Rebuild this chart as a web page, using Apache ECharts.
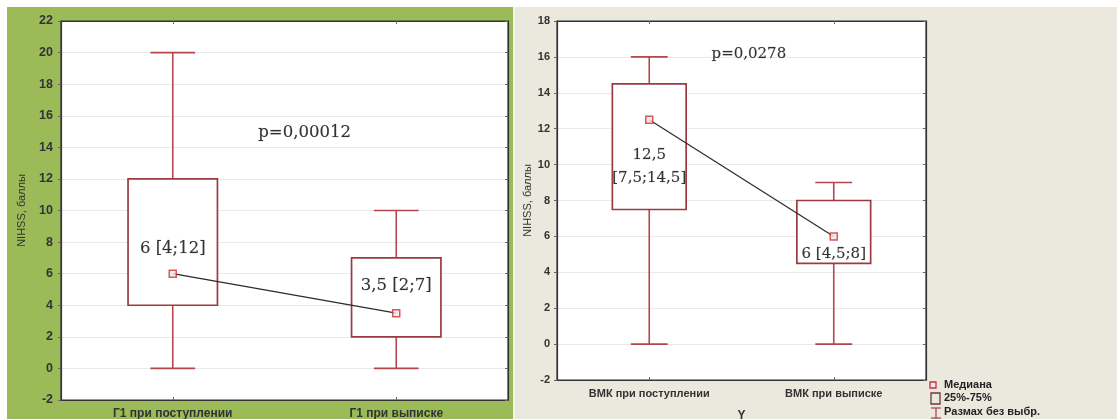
<!DOCTYPE html>
<html>
<head>
<meta charset="utf-8">
<script src="https://cdn.jsdelivr.net/npm/echarts@6/dist/echarts.min.js"></script>
<style>
html,body{margin:0;padding:0;background:#fff;}
#chart{width:1117px;height:419px;}
</style>
</head>
<body>
<div id="chart"></div>
<script>
// ---------- data ----------
const leftCategories = ['Г1 при поступлении', 'Г1 при выписке'];
// [min, Q1, median, Q3, max]
const leftStats = [[0, 4, 6, 12, 20], [0, 2, 3.5, 7, 10]];
const leftMedians = [6, 3.5];
// annotations: [x (0..2 across plot), y, text]
const leftNotes = [[0.5, 7.6, '6 [4;12]'], [1.5, 5.22, '3,5 [2;7]'], [1.09, 14.95, 'p=0,00012']];

const rightCategories = ['ВМК при поступлении', 'ВМК при выписке'];
const rightStats = [[0, 7.5, 12.5, 14.5, 16], [0, 4.5, 6, 8, 9]];
const rightMedians = [12.5, 6];
const rightNotes = [[0.5, 9.9, '12,5\n[7,5;14,5]'], [1.5, 5.02, '6 [4,5;8]'], [1.04, 16.15, 'p=0,0278']];

const yAxisName = 'NIHSS, баллы';
const rightXName = 'Y';
const legendLabels = ['Медиана', '25%-75%', 'Размах без выбр.'];

// ---------- helpers ----------
const boxColor = '#9c3a40';
const whiskColor = '#b4464c';

function boxRender(params, api) {
  const idx = api.value(0);
  const mn = api.value(1), q1 = api.value(2), q3 = api.value(4), mx = api.value(5);
  const band = api.size([1, 0])[0];
  const boxW = band * 0.4, capW = band * 0.2;
  const pMin = api.coord([idx, mn]);
  const pQ1 = api.coord([idx, q1]);
  const pQ3 = api.coord([idx, q3]);
  const pMax = api.coord([idx, mx]);
  const x = pMin[0];
  const ws = {stroke: whiskColor, lineWidth: 1.6};
  return {
    type: 'group',
    children: [
      {type: 'line', shape: {x1: x, y1: pMin[1], x2: x, y2: pQ1[1]}, style: ws},
      {type: 'line', shape: {x1: x, y1: pQ3[1], x2: x, y2: pMax[1]}, style: ws},
      {type: 'line', shape: {x1: x - capW / 2, y1: pMin[1], x2: x + capW / 2, y2: pMin[1]}, style: ws},
      {type: 'line', shape: {x1: x - capW / 2, y1: pMax[1], x2: x + capW / 2, y2: pMax[1]}, style: ws},
      {type: 'rect', shape: {x: x - boxW / 2, y: pQ3[1], width: boxW, height: pQ1[1] - pQ3[1]},
        style: {fill: '#fff', stroke: boxColor, lineWidth: 1.7}}
    ]
  };
}

function statsData(stats) {
  return stats.map((s, i) => [i].concat(s));
}

const tickFont = {fontFamily: 'Liberation Sans, Arial, sans-serif', color: '#333', fontWeight: 'bold'};

function makeYAxis(gridIndex, max, fs, nameGap, margin) {
  return {
    type: 'value', gridIndex: gridIndex, min: -2, max: max, interval: 2,
    name: yAxisName, nameLocation: 'middle', nameRotate: 90, nameGap: nameGap,
    nameTextStyle: {fontFamily: 'Liberation Sans, Arial, sans-serif', fontSize: 11, color: '#333'},
    axisLine: {show: true, onZero: false, lineStyle: {color: '#333', width: 1.2}},
    axisTick: {show: true, inside: false, length: 3, lineStyle: {color: '#666'}},
    axisLabel: Object.assign({fontSize: fs, margin: margin}, tickFont),
    splitLine: {show: true, lineStyle: {color: '#e9e9e9', width: 1}}
  };
}

function makeRightY(gridIndex, max) {
  return {
    type: 'value', gridIndex: gridIndex, position: 'right', min: -2, max: max, interval: 2,
    axisLine: {show: true, onZero: false, lineStyle: {color: '#333', width: 1.2}},
    axisTick: {show: true, inside: true, length: 3, lineStyle: {color: '#666'}},
    axisLabel: {show: false}, splitLine: {show: false}
  };
}

function makeXAxis(gridIndex, cats, fs, margin, name) {
  return {
    type: 'category', gridIndex: gridIndex, data: cats, boundaryGap: true,
    name: name || '', nameLocation: 'middle', nameGap: 30,
    nameTextStyle: Object.assign({fontSize: 12}, tickFont),
    axisLine: {show: true, onZero: false, lineStyle: {color: '#333', width: 1.2}},
    axisTick: {show: true, inside: true, alignWithLabel: true, length: 3, lineStyle: {color: '#666'}},
    axisLabel: Object.assign({fontSize: fs, margin: margin}, tickFont),
    splitLine: {show: false}
  };
}

function makeTopX(gridIndex, cats) {
  return {
    type: 'category', gridIndex: gridIndex, data: cats, boundaryGap: true, position: 'top',
    axisLine: {show: true, onZero: false, lineStyle: {color: '#333', width: 1.2}},
    axisTick: {show: true, inside: true, alignWithLabel: true, length: 3, lineStyle: {color: '#666'}},
    axisLabel: {show: false}, splitLine: {show: false}
  };
}

function hiddenX(gridIndex) {
  return {type: 'value', gridIndex: gridIndex, min: 0, max: 2, show: false,
    axisLine: {show: false, onZero: false}, axisTick: {show: false}, axisLabel: {show: false}, splitLine: {show: false}};
}

function noteSeries(xi, yi, notes, fs) {
  return {
    type: 'scatter', xAxisIndex: xi, yAxisIndex: yi, symbolSize: 0, silent: true, z: 10,
    data: notes.map(n => ({value: [n[0], n[1]], label: {formatter: n[2]}})),
    label: {show: true, position: 'inside', lineHeight: 23, fontFamily: 'DejaVu Serif, serif', color: '#000', fontSize: fs,
      textBorderColor: 'rgba(0,0,0,0.35)', textBorderWidth: 0.4}
  };
}

function medianLine(xi, yi, meds) {
  return {type: 'line', xAxisIndex: xi, yAxisIndex: yi, data: meds, symbol: 'none', silent: true,
    lineStyle: {color: '#2b2b2b', width: 1.2}, z: 4};
}
function medianPts(xi, yi, meds) {
  return {type: 'scatter', name: legendLabels[0], xAxisIndex: xi, yAxisIndex: yi, data: meds,
    symbol: 'rect', symbolSize: 7, silent: true, z: 5,
    itemStyle: {color: '#f6e4e4', borderColor: '#c8323c', borderWidth: 1.5}};
}

const legendFont = {fontSize: 11, fontFamily: 'Liberation Sans, Arial, sans-serif', fill: '#222', verticalAlign: 'middle', fontWeight: 'bold'};

const chart = echarts.init(document.getElementById('chart'), null, {renderer: 'canvas'});
chart.setOption({
  backgroundColor: '#ffffff',
  animation: false,
  graphic: [
    {type: 'rect', z: -10, silent: true, shape: {x: 7, y: 7, width: 506, height: 412}, style: {fill: '#9bbb59'}},
    {type: 'rect', z: -10, silent: true, shape: {x: 513, y: 7, width: 2, height: 412}, style: {fill: '#f3f2ea'}},
    {type: 'rect', z: -10, silent: true, shape: {x: 515, y: 7, width: 602, height: 412}, style: {fill: '#ebe8de'}},
    // legend
    {type: 'rect', z: 20, shape: {x: 930, y: 382, width: 6, height: 6}, style: {fill: '#f6e4e4', stroke: '#c8323c', lineWidth: 1.3}},
    {type: 'text', z: 20, style: Object.assign({x: 944, y: 385, text: legendLabels[0]}, legendFont)},
    {type: 'rect', z: 20, shape: {x: 931, y: 393, width: 9, height: 11}, style: {fill: 'none', stroke: '#6b3a3a', lineWidth: 1.3}},
    {type: 'text', z: 20, style: Object.assign({x: 944, y: 398, text: legendLabels[1]}, legendFont)},
    {type: 'polyline', z: 20, shape: {points: [[931, 408], [941, 408]]}, style: {stroke: '#b4464c', lineWidth: 1.3}},
    {type: 'polyline', z: 20, shape: {points: [[936, 408], [936, 419]]}, style: {stroke: '#b4464c', lineWidth: 1.3}},
    {type: 'polyline', z: 20, shape: {points: [[931, 418], [941, 418]]}, style: {stroke: '#b4464c', lineWidth: 1.3}},
    {type: 'text', z: 20, style: Object.assign({x: 944, y: 412, text: legendLabels[2]}, legendFont)}
  ],
  grid: [
    {left: 61, top: 21, width: 447, height: 379, show: true, backgroundColor: '#ffffff', borderColor: '#333', borderWidth: 1.2,
      outerBoundsMode: 'none', containLabel: false},
    {left: 557, top: 21, width: 369, height: 359, show: true, backgroundColor: '#ffffff', borderColor: '#333', borderWidth: 1.2,
      outerBoundsMode: 'none', containLabel: false}
  ],
  xAxis: [
    makeXAxis(0, leftCategories, 12, 8),
    makeXAxis(1, rightCategories, 11, 8, rightXName),
    hiddenX(0),
    hiddenX(1),
    makeTopX(0, leftCategories),
    makeTopX(1, rightCategories)
  ],
  yAxis: [
    makeYAxis(0, 22, 12.5, 34, 8),
    makeYAxis(1, 18, 11, 24, 7),
    makeRightY(0, 22),
    makeRightY(1, 18)
  ],
  series: [
    {type: 'custom', name: legendLabels[1], xAxisIndex: 0, yAxisIndex: 0, renderItem: boxRender,
      data: statsData(leftStats), encode: {x: 0, y: [1, 2, 3, 4, 5]}, z: 2, silent: true},
    medianLine(0, 0, leftMedians),
    medianPts(0, 0, leftMedians),
    noteSeries(2, 0, leftNotes, 16.5),
    {type: 'custom', name: legendLabels[1], xAxisIndex: 1, yAxisIndex: 1, renderItem: boxRender,
      data: statsData(rightStats), encode: {x: 0, y: [1, 2, 3, 4, 5]}, z: 2, silent: true},
    medianLine(1, 1, rightMedians),
    medianPts(1, 1, rightMedians),
    noteSeries(3, 1, rightNotes, 15)
  ]
});
</script>
</body>
</html>
